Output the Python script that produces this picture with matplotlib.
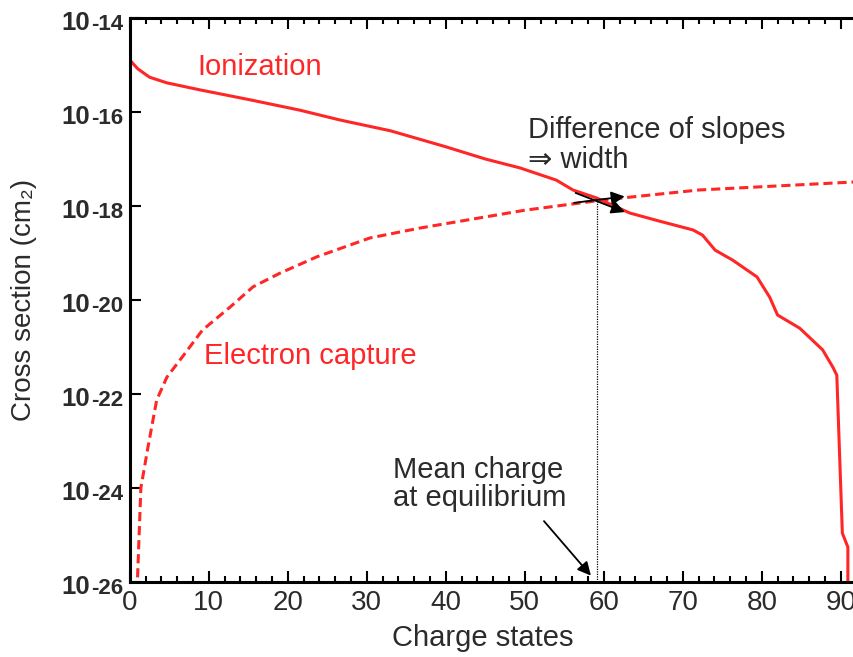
import numpy as np
import matplotlib
matplotlib.use("Agg")
import matplotlib.pyplot as plt

# values (charge state, log10 of cross section in cm2)
ion_q = [0, 0.3, 1, 2.5, 4.7, 8.9, 15.2, 21.5, 26.6, 33, 40, 45, 49.4, 54,
         56.1, 59.1, 63.3, 67, 71.3, 72.5, 74.1, 76.3, 79.4, 81, 82, 84.8,
         87.7, 89, 89.5, 90.2, 90.9, 90.9]
ion_log = [-14.89, -14.95, -15.08, -15.26, -15.38, -15.53, -15.74, -15.96,
           -16.17, -16.40, -16.74, -17.0, -17.19, -17.45, -17.66, -17.83,
           -18.15, -18.32, -18.51, -18.62, -18.94, -19.15, -19.51, -19.94,
           -20.32, -20.6, -21.06, -21.43, -21.6, -24.96, -25.26, -26.5]

cap_q = [0.85, 1.4, 2.3, 3.4, 4.7, 6.7, 9.2, 12.7, 15.6, 19, 23.7, 30.4,
         36.7, 50, 60, 72, 91.6, 100]
cap_log = [-26.5, -24.0, -23.13, -22.13, -21.64, -21.2, -20.64, -20.15,
           -19.72, -19.43, -19.08, -18.68, -18.47, -18.09, -17.87, -17.66,
           -17.49, -17.43]

mean_q = 59.2
mean_log = -17.85

y_exps = [-14, -16, -18, -20, -22, -24, -26]
x_ticks = [0, 10, 20, 30, 40, 50, 60, 70, 80, 90]

red = "#ff2626"
dark = "#2b2b2b"
plt.rcParams["font.family"] = ["Liberation Sans", "DejaVu Sans"]

fig = plt.figure(figsize=(8.54, 6.57), dpi=100)
ax = fig.add_axes([0.152, 0.1142, 0.925, 0.8584])

ax.semilogy(ion_q, 10.0 ** np.array(ion_log), color=red, lw=2.2)
ax.semilogy(cap_q, 10.0 ** np.array(cap_log), color=red, lw=2.2,
            ls=(0, (3, 1.6)))
ax.plot([mean_q, mean_q], [1e-26, 10.0 ** mean_log], color="black",
        lw=0.9, ls=(0, (1, 1)))

ax.set_xlim(0, 100)
ax.set_ylim(1e-26, 1e-14)

# y labels: "10" followed by a smaller exponent on the same baseline
ax.set_yticks([10.0 ** e for e in y_exps])
ax.set_yticklabels([])
ax.yaxis.set_minor_locator(matplotlib.ticker.NullLocator())
for e in y_exps:
    ax.annotate(str(e), xy=(0, 10.0 ** e), xycoords=("axes fraction", "data"),
                xytext=(-5, -8.5), textcoords="offset points",
                ha="right", va="baseline", fontsize=16, fontweight="bold",
                color=dark)
    ax.annotate("10", xy=(0, 10.0 ** e), xycoords=("axes fraction", "data"),
                xytext=(-28.5, -8.5), textcoords="offset points",
                ha="right", va="baseline", fontsize=18.5, fontweight="bold",
                color=dark)

ax.set_xticks(x_ticks)
ax.set_xticklabels([str(t) for t in x_ticks], fontsize=20, color=dark)
ax.set_xticks(np.arange(0, 101, 2), minor=True)

ax.tick_params(which="both", direction="in", top=True, right=False,
               width=1.5, color="black")
ax.tick_params(which="major", length=8, pad=6)
ax.tick_params(which="minor", length=4)
for side in ["left", "bottom", "top"]:
    ax.spines[side].set_linewidth(2.2)
ax.spines["right"].set_visible(False)

ax.set_xlabel("Charge states", fontsize=21, color=dark)
ax.xaxis.set_label_coords(0.447, -0.074)
ax.set_ylabel("Cross section (cm₂)", fontsize=20, color=dark)
ax.yaxis.set_label_coords(-0.118, 0.5)

ax.text(16.5, 10 ** -15.04, "Ionization", color=red, fontsize=21,
        ha="center", va="center")
ax.text(22.9, 10 ** -21.19, "Electron capture", color=red, fontsize=21,
        ha="center", va="center")
ax.text(50.4, 10 ** -16.38, "Difference of slopes", color=dark, fontsize=21,
        va="center")
ax.text(50.4, 10 ** -17.02, "⇒ width", color=dark, fontsize=21, va="center")
ax.text(33.3, 10 ** -23.62, "Mean charge", color=dark, fontsize=21,
        va="center")
ax.text(33.3, 10 ** -24.21, "at equilibrium", color=dark, fontsize=21,
        va="center")

arrow = dict(arrowstyle="-|>", color="black", lw=1.3, mutation_scale=20)
ax.annotate("", xy=(63.0, 10 ** -17.79), xytext=(55.9, 10 ** -17.94),
            arrowprops=arrow)
ax.annotate("", xy=(63.0, 10 ** -18.15), xytext=(56.1, 10 ** -17.70),
            arrowprops=arrow)
ax.annotate("", xy=(58.6, 10 ** -25.91), xytext=(52.2, 10 ** -24.66),
            arrowprops=arrow)

fig.savefig("out.png", dpi=100)
